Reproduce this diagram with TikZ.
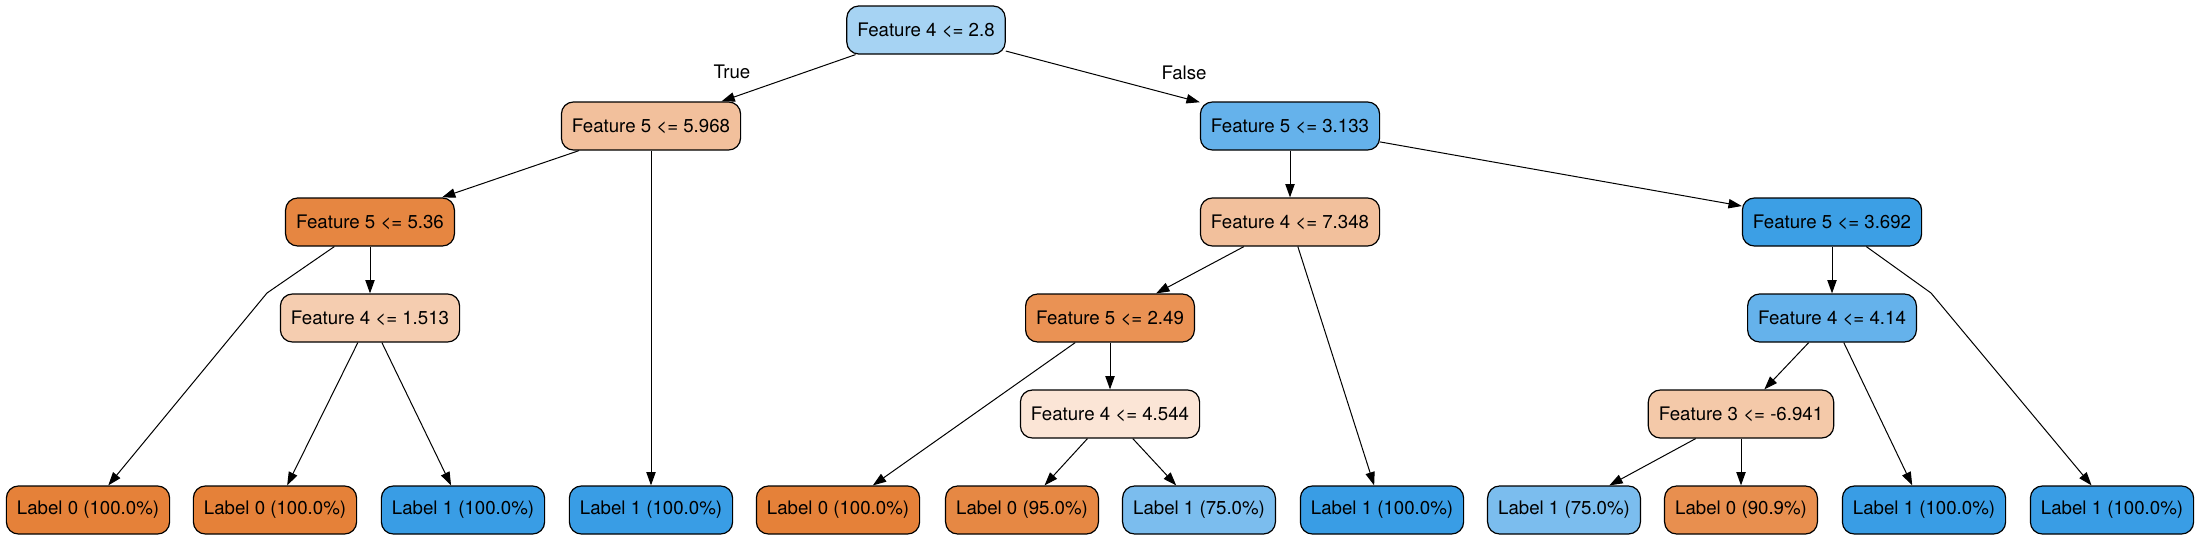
\documentclass[tikz,border=0pt]{standalone}
\usepackage{fontspec}
\setmainfont{TeX Gyre Heros}
\usetikzlibrary{arrows.meta}

\definecolor{orgfull}{HTML}{E58139}
\definecolor{blufull}{HTML}{399DE5}
\definecolor{bluroot}{HTML}{A6D3F3}
\definecolor{blumid}{HTML}{65B2EB}
\definecolor{bludeep}{HTML}{3C9FE5}
\definecolor{blulight}{HTML}{7BBDEE}
\definecolor{orgpale}{HTML}{F2C09C}
\definecolor{orgpaler}{HTML}{F5CDB0}
\definecolor{orgfaint}{HTML}{FBE5D6}
\definecolor{orgskin}{HTML}{F4C9A9}
\definecolor{orgdeep}{HTML}{E68641}
\definecolor{orgwarm}{HTML}{EA9254}
\definecolor{orgleafa}{HTML}{E68844}
\definecolor{orgleafb}{HTML}{E88F4F}

\begin{document}
\begin{tikzpicture}[
  x=0.75pt, y=-0.75pt,
  split/.style = {draw, line width=0.9pt, rounded corners=9pt, minimum height=36pt,
                  inner xsep=7.9pt, inner ysep=0pt, font=\fontsize{14}{16}\selectfont},
  leaf/.style = {split},
  arrow/.style = {line width=0.75pt, -{Triangle[length=10pt, width=7pt]}},
  edgelabel/.style = {font=\fontsize{14}{16}\selectfont, inner sep=0pt}
]

% Frame
\useasboundingbox (0,0) rectangle (2200,539);

% Split nodes
\node[split, fill=bluroot] (root) at (926,30) {Feature 4 <= 2.8};
\node[split, fill=orgpale] (fivea) at (651,126) {Feature 5 <= 5.968};
\node[split, fill=blumid] (fiveb) at (1290,126) {Feature 5 <= 3.133};
\node[split, fill=orgdeep] (fivec) at (370,222) {Feature 5 <= 5.36};
\node[split, fill=orgpale] (foura) at (1290,222) {Feature 4 <= 7.348};
\node[split, fill=bludeep] (fived) at (1832,222) {Feature 5 <= 3.692};
\node[split, fill=orgpaler] (fourb) at (370,318) {Feature 4 <= 1.513};
\node[split, fill=orgwarm] (fivee) at (1110,318) {Feature 5 <= 2.49};
\node[split, fill=blumid] (fourc) at (1832,318) {Feature 4 <= 4.14};
\node[split, fill=orgfaint] (fourd) at (1110,414) {Feature 4 <= 4.544};
\node[split, fill=orgskin] (three) at (1741,414) {Feature 3 <= -6.941};

% Leaves
\node[leaf, fill=orgfull] (leafa) at (88,510) {Label 0 (100.0\%)};
\node[leaf, fill=orgfull] (leafb) at (275,510) {Label 0 (100.0\%)};
\node[leaf, fill=blufull] (leafc) at (463,510) {Label 1 (100.0\%)};
\node[leaf, fill=blufull] (leafd) at (651,510) {Label 1 (100.0\%)};
\node[leaf, fill=orgfull] (leafe) at (838,510) {Label 0 (100.0\%)};
\node[leaf, fill=orgleafa] (leaff) at (1022,510) {Label 0 (95.0\%)};
\node[leaf, fill=blulight] (leafg) at (1199,510) {Label 1 (75.0\%)};
\node[leaf, fill=blufull] (leafh) at (1382,510) {Label 1 (100.0\%)};
\node[leaf, fill=blulight] (leafi) at (1564,510) {Label 1 (75.0\%)};
\node[leaf, fill=orgleafb] (leafj) at (1741,510) {Label 0 (90.9\%)};
\node[leaf, fill=blufull] (leafk) at (1924,510) {Label 1 (100.0\%)};
\node[leaf, fill=blufull] (leafl) at (2112,510) {Label 1 (100.0\%)};

% Bends of the two long edges
\coordinate (bendl) at (267,293);
\coordinate (bendr) at (1931,293);

% Edge labels
\node[edgelabel] (ltrue) at (732,72) {True};
\node[edgelabel] (lfalse) at (1184,73) {False};

% Edges
\draw[arrow] (root) -- (fivea);
\draw[arrow] (root) -- (fiveb);
\draw[arrow] (fivea) -- (fivec);
\draw[arrow] (fivea) -- (leafd);
\draw[arrow] (fivec) -- (fourb);
\draw[arrow] (fivec) -- (bendl) -- (leafa);
\draw[arrow] (fourb) -- (leafb);
\draw[arrow] (fourb) -- (leafc);
\draw[arrow] (fiveb) -- (foura);
\draw[arrow] (fiveb) -- (fived);
\draw[arrow] (foura) -- (fivee);
\draw[arrow] (foura) -- (leafh);
\draw[arrow] (fivee) -- (leafe);
\draw[arrow] (fivee) -- (fourd);
\draw[arrow] (fourd) -- (leaff);
\draw[arrow] (fourd) -- (leafg);
\draw[arrow] (fived) -- (fourc);
\draw[arrow] (fived) -- (bendr) -- (leafl);
\draw[arrow] (fourc) -- (three);
\draw[arrow] (fourc) -- (leafk);
\draw[arrow] (three) -- (leafi);
\draw[arrow] (three) -- (leafj);

\end{tikzpicture}
\end{document}
